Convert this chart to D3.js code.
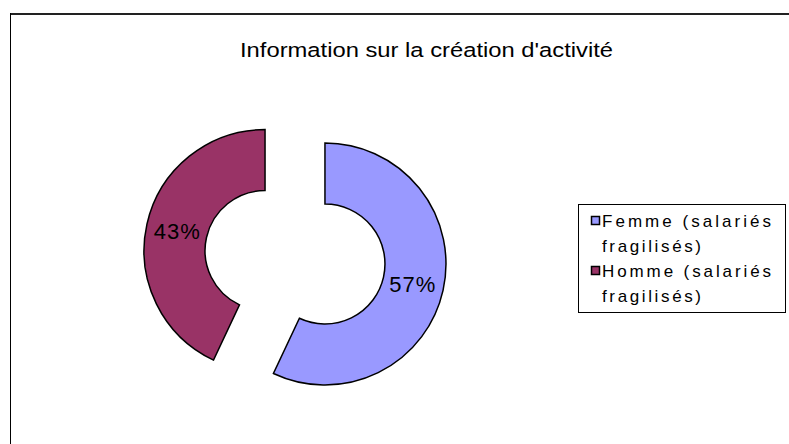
<!DOCTYPE html>
<html>
<head>
<meta charset="utf-8">
<script src="https://cdn.jsdelivr.net/npm/d3@7"></script>
<style>
  body { margin: 0; background: #fff; }
  svg { display: block; font-family: "Liberation Sans", Arial, sans-serif; }
</style>
</head>
<body>
<svg id="chart" width="789" height="444"></svg>
<script>
// data
const categories = ["Femme (salariés fragilisés)", "Homme (salariés fragilisés)"]
const legendLines = [["Femme (salariés", "fragilisés)"], ["Homme (salariés", "fragilisés)"]]
const values = [57, 43]
const colors = ["#9999ff", "#993366"]
const title = "Information sur la création d'activité"

const width = 789, height = 444
const svg = d3.select("#chart")

// chart area border (runs off the right and bottom edge)
svg.append("line")
    .attr("x1", 10).attr("x2", width + 5)
    .attr("y1", 14).attr("y2", 14)
    .attr("stroke", "#222").attr("stroke-width", 2)
svg.append("line")
    .attr("x1", 10.5).attr("x2", 10.5)
    .attr("y1", 13).attr("y2", height + 5)
    .attr("stroke", "#000").attr("stroke-width", 1)

svg.append("text")
    .attr("x", 240).attr("y", 57)
    .attr("font-size", 20.5)
    .attr("textLength", 373)
    .attr("lengthAdjust", "spacingAndGlyphs")
    .text(title)

// donut, slices pulled apart
const cx = 295, cy = 257.3
const outer = 121, inner = 60, explode = 30.7
const total = d3.sum(values)

const pie = d3.pie().sort(null).value(d => d)
const arc = d3.arc().innerRadius(inner).outerRadius(outer)
const slices = pie(values)

const g = svg.append("g").attr("transform", `translate(${cx},${cy})`)

const sliceG = g.selectAll("g.slice")
    .data(slices)
    .join("g")
    .attr("class", "slice")
    .attr("transform", d => {
        const a = (d.startAngle + d.endAngle) / 2
        return `translate(${Math.sin(a) * explode},${-Math.cos(a) * explode})`
    })

sliceG.append("path")
    .attr("d", arc)
    .attr("fill", (d, i) => colors[i])
    .attr("stroke", "#000")
    .attr("stroke-width", 1.5)
    .attr("stroke-linejoin", "miter")

const labelArc = d3.arc().innerRadius(90).outerRadius(90)
sliceG.append("text")
    .attr("transform", d => `translate(${labelArc.centroid(d)})`)
    .attr("text-anchor", "middle")
    .attr("dy", "0.36em")
    .attr("font-size", 22)
    .attr("letter-spacing", 1)
    .text(d => Math.round(d.value / total * 100) + "%")

// legend
const legend = svg.append("g")
legend.append("rect")
    .attr("x", 578.5).attr("y", 204.5)
    .attr("width", 207).attr("height", 108)
    .attr("fill", "#fff").attr("stroke", "#000")

const lineH = 25
const item = legend.selectAll("g.item")
    .data(categories)
    .join("g")
    .attr("class", "item")
    .attr("transform", (d, i) => `translate(0,${227 + i * 2 * lineH})`)

item.append("rect")
    .attr("x", 591.5).attr("y", -10.5)
    .attr("width", 8).attr("height", 8)
    .attr("fill", (d, i) => colors[i])
    .attr("stroke", "#000").attr("stroke-width", 1.5)

item.each(function (d, i) {
    const lines = legendLines[i]
    const widths = [169, 99]
    d3.select(this).selectAll("text")
        .data(lines)
        .join("text")
        .attr("x", 602)
        .attr("y", (t, j) => j * lineH)
        .attr("font-size", 17)
        .attr("textLength", (t, j) => widths[j])
        .attr("lengthAdjust", "spacing")
        .text(t => t)
})
</script>
</body>
</html>
